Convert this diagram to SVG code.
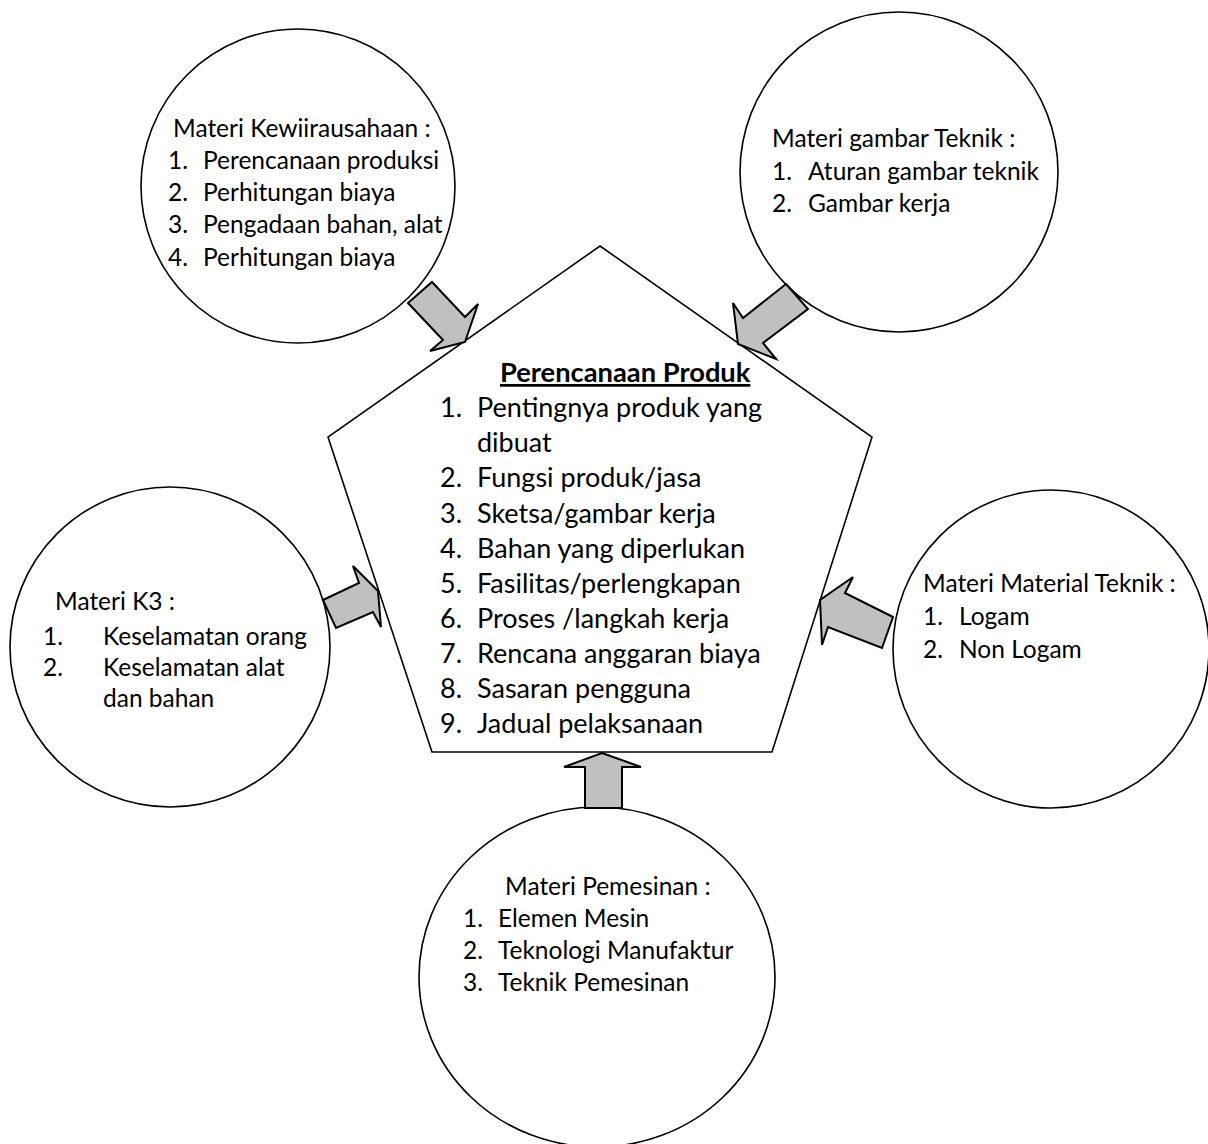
<svg xmlns="http://www.w3.org/2000/svg" width="1208" height="1144" viewBox="0 0 1208 1144">
<style>
.shape{fill:#fff;stroke:#000;stroke-width:1.6}
.arrow{fill:#c0c0c0;stroke:#000;stroke-width:2;stroke-linejoin:miter}
text{font-family:Lato,"Open Sans","Liberation Sans",sans-serif;fill:#000}
.s{font-size:24.5px}
.c{font-size:27px}
.t{font-size:27.3px;font-weight:bold;text-decoration:underline}
</style>
<rect width="1208" height="1144" fill="#fff"/>
<g id="node-kewirausahaan">
<ellipse class="shape" cx="298" cy="186" rx="157" ry="157"/>
<text class="s" x="173" y="137">Materi Kewiirausahaan :</text>
<text class="s" x="168" y="169">1.</text><text class="s" x="203" y="169">Perencanaan produksi</text>
<text class="s" x="168" y="201">2.</text><text class="s" x="203" y="201">Perhitungan biaya</text>
<text class="s" x="168" y="233">3.</text><text class="s" x="203" y="233">Pengadaan bahan, alat</text>
<text class="s" x="168" y="266">4.</text><text class="s" x="203" y="266">Perhitungan biaya</text>
</g>
<g id="node-gambar-teknik">
<ellipse class="shape" cx="899" cy="172" rx="159" ry="160"/>
<text class="s" x="772" y="147">Materi gambar Teknik :</text>
<text class="s" x="772" y="180">1.</text><text class="s" x="808" y="180">Aturan gambar teknik</text>
<text class="s" x="772" y="212">2.</text><text class="s" x="808" y="212">Gambar kerja</text>
</g>
<g id="node-k3">
<ellipse class="shape" cx="170" cy="647" rx="160" ry="160"/>
<text class="s" x="55" y="610">Materi K3 :</text>
<text class="s" x="43" y="645">1.</text><text class="s" x="103" y="645">Keselamatan orang</text>
<text class="s" x="43" y="676">2.</text><text class="s" x="103" y="676">Keselamatan alat</text>
<text class="s" x="103" y="707">dan bahan</text>
</g>
<g id="node-material-teknik">
<ellipse class="shape" cx="1051" cy="649" rx="158" ry="159"/>
<text class="s" x="923" y="592">Materi Material Teknik :</text>
<text class="s" x="923" y="625">1.</text><text class="s" x="959" y="625">Logam</text>
<text class="s" x="923" y="658">2.</text><text class="s" x="959" y="658">Non Logam</text>
</g>
<g id="node-pemesinan">
<ellipse class="shape" cx="597" cy="977" rx="178" ry="170"/>
<text class="s" x="505" y="895">Materi Pemesinan :</text>
<text class="s" x="463" y="927">1.</text><text class="s" x="498" y="927">Elemen Mesin</text>
<text class="s" x="463" y="959">2.</text><text class="s" x="498" y="959">Teknologi Manufaktur</text>
<text class="s" x="463" y="991">3.</text><text class="s" x="498" y="991">Teknik Pemesinan</text>
</g>
<g id="node-perencanaan-produk">
<polygon class="shape" points="600,246 872,437 772,752 432,752 328,437"/>
<text class="t" x="500" y="382">Perencanaan Produk</text>
<text class="c" x="440" y="417">1.</text><text class="c" x="477" y="417">Pentingnya produk yang</text>
<text class="c" x="477" y="452">dibuat</text>
<text class="c" x="440" y="487">2.</text><text class="c" x="477" y="487">Fungsi produk/jasa</text>
<text class="c" x="440" y="523">3.</text><text class="c" x="477" y="523">Sketsa/gambar kerja</text>
<text class="c" x="440" y="558">4.</text><text class="c" x="477" y="558">Bahan yang diperlukan</text>
<text class="c" x="440" y="593">5.</text><text class="c" x="477" y="593">Fasilitas/perlengkapan</text>
<text class="c" x="440" y="628">6.</text><text class="c" x="477" y="628">Proses /langkah kerja</text>
<text class="c" x="440" y="663">7.</text><text class="c" x="477" y="663">Rencana anggaran biaya</text>
<text class="c" x="440" y="698">8.</text><text class="c" x="477" y="698">Sasaran pengguna</text>
<text class="c" x="440" y="733">9.</text><text class="c" x="477" y="733">Jadual pelaksanaan</text>
</g>
<g id="connectors">
<polygon class="arrow" points="432,282 465,317 478,304 465,342 430,351 443,340 408,303"/>
<polygon class="arrow" points="786,284 808,309 763,343 776,359 738,344 733,303 743,318"/>
<polygon class="arrow" points="323,600 359,583 353,566 378,591 381,627 373,612 336,628"/>
<polygon class="arrow" points="893,617 845,593 853,577 820,600 822,645 828,627 882,648"/>
<polygon class="arrow" points="602,753 641,767 622,767 622,808 585,808 585,767 564,767"/>
</g>
</svg>
